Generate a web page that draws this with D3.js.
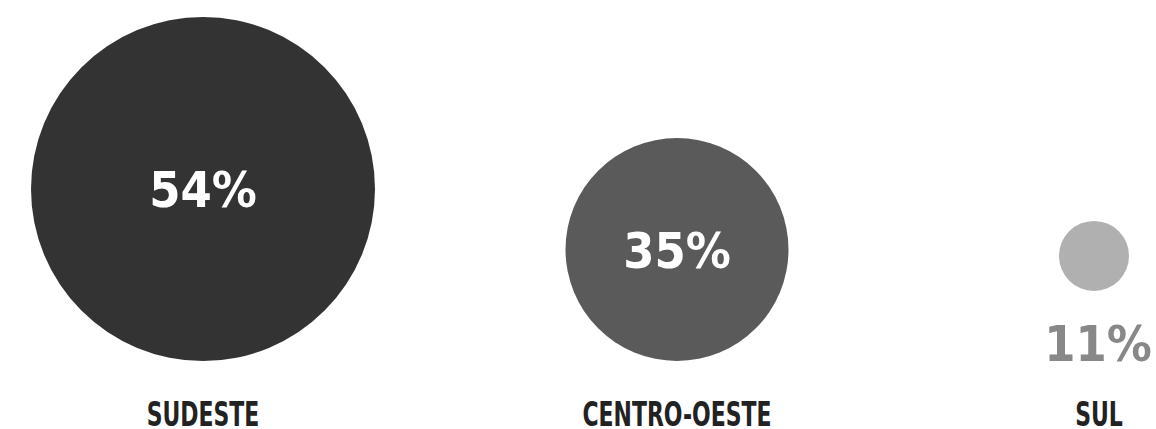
<!DOCTYPE html>
<html>
<head>
<meta charset="utf-8">
<script src="https://cdn.jsdelivr.net/npm/d3@7"></script>
<style>
  body { margin: 0; background: #fff; }
  .pct { font-family: "DejaVu Sans Condensed", "DejaVu Sans", sans-serif; font-weight: bold; }
  .name { font-family: "DejaVu Sans Condensed", "DejaVu Sans", sans-serif; font-weight: bold; }
</style>
</head>
<body>
<div id="chart"></div>
<script>
// share of each region
var regions = ['SUDESTE', 'CENTRO-OESTE', 'SUL'];
var values = [54, 35, 11];
var colors = ['#333333', '#5a5a5a', '#b0b0b0'];

var width = 1156, height = 429;
var baseY = 361;      // bottom line of the bubbles
var labelY = 426;     // baseline of region names

var data = regions.map((r, i) => ({ name: r, num: values[i], color: colors[i] }));

// radius grows linearly with the value
var rScale = d3.scaleLinear().domain([0, 54]).range([0, 172]);

var xScale = d3.scaleOrdinal()
    .domain(regions)
    .range([203, 677, 1096]);

var svg = d3.select('#chart')
    .append('svg')
    .attr('width', width)
    .attr('height', height);

var g = svg.selectAll('g.region')
    .data(data)
    .enter().append('g')
    .attr('class', 'region')
    .attr('transform', d => `translate(${xScale(d.name)},0)`);

// small bubbles get the number underneath instead of inside
var fits = d => rScale(d.num) > 60;

g.append('circle')
    .attr('cx', d => fits(d) ? 0 : -2)
    .attr('cy', d => fits(d) ? baseY - rScale(d.num) : baseY - 70 - rScale(d.num))
    .attr('r', d => rScale(d.num))
    .attr('fill', d => d.color);

g.append('text')
    .attr('class', 'pct')
    .attr('text-anchor', 'middle')
    .attr('x', d => fits(d) ? 0 : 2)
    .attr('y', d => fits(d) ? baseY - rScale(d.num) : baseY)
    .attr('dy', d => fits(d) ? '0.36em' : 0)
    .attr('font-size', 50)
    .attr('fill', d => fits(d) ? '#fff' : '#888')
    .text(d => d.num + '%');

// condensed look: squeeze the names horizontally
g.append('text')
    .attr('class', 'name')
    .attr('text-anchor', 'middle')
    .attr('transform', d => `translate(${fits(d) ? 0 : 3},${labelY}) scale(0.74,1)`)
    .attr('font-size', 33)
    .attr('fill', '#222')
    .text(d => d.name);
</script>
</body>
</html>
